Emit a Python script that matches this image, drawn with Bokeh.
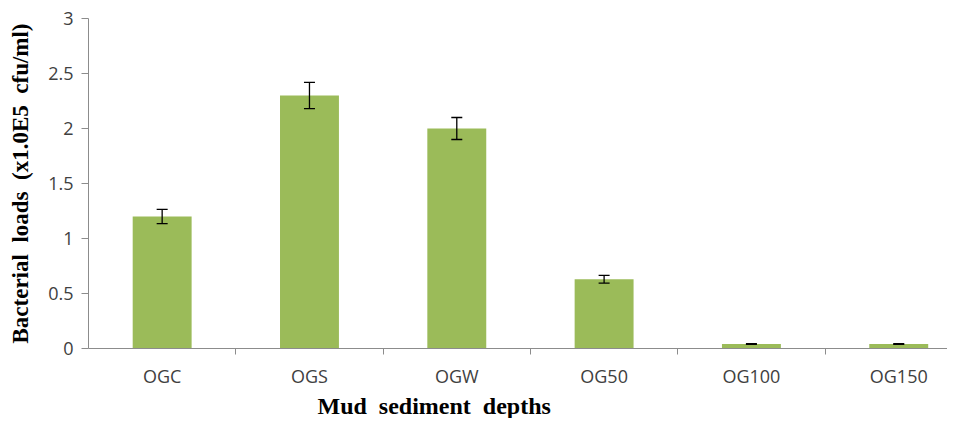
from bokeh.plotting import figure
from bokeh.models import Range1d, FixedTicker, ColumnDataSource, Whisker, TeeHead, Title
from bokeh.embed import file_html
from bokeh.resources import INLINE

categories = ["OGC", "OGS", "OGW", "OG50", "OG100", "OG150"]
values = [1.2, 2.3, 2.0, 0.63, 0.04, 0.04]
errors = [0.065, 0.12, 0.1, 0.035, 0.003, 0.003]
y_ticks = [0, 0.5, 1, 1.5, 2, 2.5, 3]
y_tick_labels = ["0", "0.5", "1", "1.5", "2", "2.5", "3"]

centers = [i + 0.5 for i in range(len(categories))]
bounds = [i for i in range(1, len(categories) + 1)]

src = ColumnDataSource(dict(
    x=centers, top=values,
    upper=[v + e for v, e in zip(values, errors)],
    lower=[v - e for v, e in zip(values, errors)],
))

p = figure(width=947, height=418, output_backend="svg", toolbar_location=None,
           x_range=Range1d(0, 5.831), y_range=Range1d(0, 3))
p.min_border_left = 88
p.min_border_top = 18
p.min_border_right = 0
p.min_border_bottom = 0
p.outline_line_color = None
p.grid.visible = False
p.background_fill_color = "white"
p.border_fill_color = "white"

p.vbar(x="x", top="top", width=0.4, source=src, fill_color="#9BBB59", line_color=None)
p.add_layout(Whisker(source=src, base="x", upper="upper", lower="lower",
                     level="overlay", line_color="black", line_width=1.3,
                     upper_head=TeeHead(size=11, line_color="black", line_width=1.3),
                     lower_head=TeeHead(size=11, line_color="black", line_width=1.3)))

axis_gray = "#8c8c8c"
label_gray = "#404040"

xa = p.xaxis[0]
xa.ticker = FixedTicker(ticks=centers, minor_ticks=bounds)
xa.major_label_overrides = {c: lab for c, lab in zip(centers, categories)}
xa.major_tick_line_color = None
xa.major_tick_out = 0
xa.minor_tick_in = 0
xa.minor_tick_out = 6
xa.minor_tick_line_color = axis_gray
xa.axis_line_color = axis_gray
xa.major_label_standoff = 9
xa.major_label_text_font = "Open Sans"
xa.major_label_text_font_size = "18px"
xa.major_label_text_color = label_gray

ya = p.yaxis[0]
ya.ticker = FixedTicker(ticks=y_ticks, minor_ticks=[])
ya.major_label_overrides = {t: lab for t, lab in zip(y_ticks, y_tick_labels)}
ya.major_tick_in = 0
ya.major_tick_out = 7
ya.major_tick_line_color = axis_gray
ya.axis_line_color = axis_gray
ya.major_label_standoff = 8
ya.major_label_text_font = "Open Sans"
ya.major_label_text_font_size = "18px"
ya.major_label_text_color = label_gray
ya.axis_label = "Bacterial\u00a0 loads\u00a0 (x1.0E5\u00a0 cfu/ml)"
ya.axis_label_text_font = "Liberation Serif"
ya.axis_label_text_font_style = "bold"
ya.axis_label_text_font_size = "23px"
ya.axis_label_text_color = "black"
ya.axis_label_standoff = 12

xt = Title(text="Mud\u00a0 sediment\u00a0 depths", align="left", offset=229, standoff=0,
           text_font="Liberation Serif", text_font_style="bold",
           text_font_size="24px", text_color="black")
p.add_layout(xt, "below")

open("out.html", "w").write(file_html(p, INLINE))
